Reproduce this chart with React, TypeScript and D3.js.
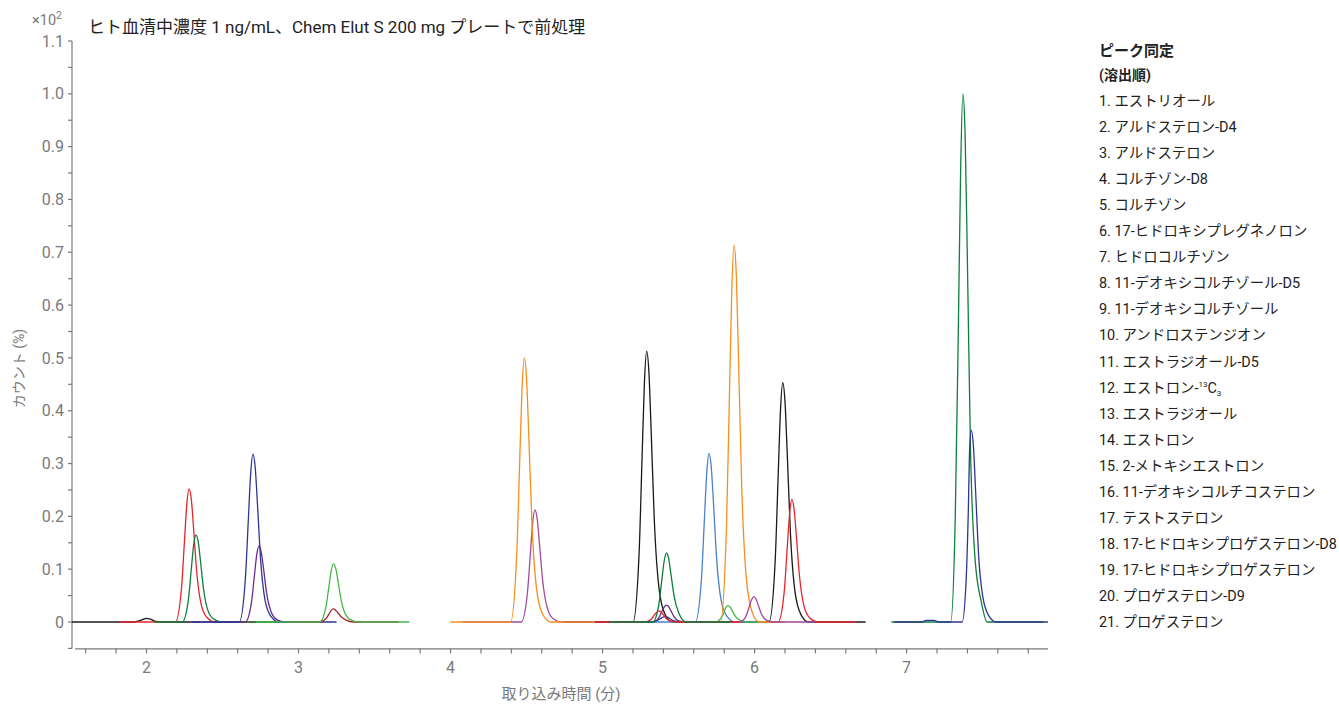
import * as d3 from 'd3';

type Pt = [number, number];

// retention time (min) vs. counts (x10^2 %)
const black1: Pt[] = [[1.51, 0], [1.91, 0], [1.95, 0.002], [1.97, 0.004], [1.985, 0.006], [2.0, 0.007], [2.015, 0.006], [2.03, 0.005], [2.05, 0.002], [2.08, 0.0005], [2.13, 0], [2.35, 0]];
const red1: Pt[] = [[1.82, 0], [2.19, 0], [2.23, 0.063], [2.25, 0.154], [2.265, 0.222], [2.28, 0.252], [2.295, 0.232], [2.31, 0.176], [2.33, 0.096], [2.36, 0.033], [2.4, 0.008], [2.45, 0], [2.9, 0]];
const green1: Pt[] = [[2.05, 0], [2.235, 0], [2.275, 0.041], [2.295, 0.101], [2.31, 0.145], [2.325, 0.165], [2.34, 0.152], [2.355, 0.116], [2.375, 0.063], [2.405, 0.021], [2.445, 0.005], [2.5, 0], [2.9, 0]];
const navy1: Pt[] = [[2.3, 0], [2.61, 0], [2.65, 0.08], [2.67, 0.194], [2.685, 0.28], [2.7, 0.318], [2.715, 0.293], [2.73, 0.223], [2.75, 0.121], [2.78, 0.041], [2.82, 0.01], [2.87, 0], [3.25, 0]];
const purple1: Pt[] = [[2.35, 0], [2.65, 0], [2.69, 0.036], [2.71, 0.088], [2.725, 0.127], [2.74, 0.144], [2.755, 0.132], [2.77, 0.101], [2.79, 0.055], [2.82, 0.019], [2.86, 0.004], [2.91, 0], [3.1, 0]];
const lime1: Pt[] = [[2.72, 0], [3.14, 0], [3.18, 0.028], [3.2, 0.067], [3.215, 0.097], [3.23, 0.11], [3.245, 0.101], [3.26, 0.077], [3.28, 0.042], [3.31, 0.014], [3.35, 0.003], [3.4, 0], [3.73, 0]];
const maroon1: Pt[] = [[2.95, 0], [3.14, 0], [3.18, 0.006], [3.2, 0.015], [3.215, 0.022], [3.23, 0.025], [3.245, 0.022], [3.26, 0.017], [3.28, 0.01], [3.31, 0.004], [3.36, 0], [3.66, 0]];

const orange1: Pt[] = [[4.0, 0], [4.395, 0], [4.435, 0.125], [4.455, 0.305], [4.47, 0.44], [4.485, 0.5], [4.5, 0.46], [4.515, 0.35], [4.535, 0.19], [4.565, 0.065], [4.605, 0.015], [4.66, 0], [4.95, 0]];
const magenta1: Pt[] = [[4.08, 0], [4.465, 0], [4.505, 0.053], [4.525, 0.129], [4.54, 0.187], [4.555, 0.212], [4.57, 0.195], [4.585, 0.148], [4.605, 0.081], [4.635, 0.028], [4.675, 0.006], [4.73, 0], [4.95, 0]];
const black2: Pt[] = [[4.75, 0], [5.2, 0], [5.24, 0.128], [5.26, 0.313], [5.275, 0.451], [5.29, 0.513], [5.305, 0.472], [5.32, 0.359], [5.34, 0.195], [5.37, 0.067], [5.41, 0.015], [5.46, 0], [5.65, 0]];
const red2: Pt[] = [[4.95, 0], [5.28, 0], [5.32, 0.005], [5.34, 0.013], [5.355, 0.018], [5.37, 0.021], [5.385, 0.019], [5.4, 0.014], [5.42, 0.006], [5.45, 0.0015], [5.5, 0], [5.9, 0]];
const green2: Pt[] = [[5.05, 0], [5.33, 0], [5.37, 0.033], [5.39, 0.08], [5.405, 0.115], [5.42, 0.131], [5.435, 0.12], [5.45, 0.09], [5.47, 0.05], [5.5, 0.018], [5.55, 0], [5.85, 0]];
const purple2: Pt[] = [[4.85, 0], [5.33, 0], [5.37, 0.008], [5.39, 0.02], [5.405, 0.028], [5.42, 0.032], [5.435, 0.029], [5.45, 0.021], [5.47, 0.01], [5.5, 0.002], [5.55, 0], [5.95, 0]];
const navy2: Pt[] = [[5.2, 0], [5.32, 0], [5.36, 0.003], [5.38, 0.006], [5.395, 0.009], [5.41, 0.01], [5.425, 0.009], [5.44, 0.007], [5.46, 0.003], [5.49, 0.001], [5.54, 0], [5.7, 0]];
const blue2: Pt[] = [[5.3, 0], [5.61, 0], [5.65, 0.08], [5.67, 0.195], [5.685, 0.281], [5.7, 0.319], [5.715, 0.293], [5.73, 0.223], [5.75, 0.121], [5.78, 0.041], [5.82, 0.01], [5.87, 0], [6.05, 0]];
const orange2: Pt[] = [[5.5, 0], [5.775, 0], [5.815, 0.179], [5.835, 0.436], [5.85, 0.628], [5.865, 0.714], [5.88, 0.655], [5.895, 0.49], [5.915, 0.26], [5.945, 0.085], [5.985, 0.018], [6.03, 0], [6.2, 0]];
const lime2: Pt[] = [[5.5, 0], [5.74, 0], [5.78, 0.008], [5.8, 0.019], [5.81, 0.027], [5.825, 0.031], [5.84, 0.028], [5.855, 0.02], [5.875, 0.01], [5.905, 0.003], [5.95, 0], [6.1, 0]];
const magenta2: Pt[] = [[5.6, 0], [5.905, 0], [5.945, 0.012], [5.965, 0.029], [5.98, 0.042], [5.995, 0.048], [6.01, 0.043], [6.025, 0.031], [6.045, 0.015], [6.075, 0.004], [6.12, 0], [6.4, 0]];
const black3: Pt[] = [[5.75, 0], [6.095, 0], [6.135, 0.113], [6.155, 0.276], [6.17, 0.399], [6.185, 0.453], [6.2, 0.417], [6.215, 0.317], [6.235, 0.172], [6.265, 0.059], [6.305, 0.014], [6.355, 0], [6.73, 0]];
const red3: Pt[] = [[5.8, 0], [6.155, 0], [6.195, 0.058], [6.215, 0.142], [6.23, 0.204], [6.245, 0.232], [6.26, 0.213], [6.275, 0.162], [6.295, 0.088], [6.325, 0.03], [6.365, 0.007], [6.415, 0], [6.66, 0]];

const green3: Pt[] = [[6.9, 0], [7.29, 0], [7.32, 0.2], [7.34, 0.55], [7.355, 0.85], [7.37, 1.0], [7.385, 0.92], [7.4, 0.68], [7.42, 0.33], [7.45, 0.12], [7.49, 0.04], [7.53, 0], [7.9, 0]];
const navy3: Pt[] = [[6.92, 0], [7.1, 0], [7.13, 0.003], [7.18, 0.003], [7.21, 0], [7.365, 0], [7.39, 0.07], [7.405, 0.2], [7.415, 0.33], [7.425, 0.363], [7.44, 0.33], [7.455, 0.24], [7.475, 0.12], [7.5, 0.05], [7.54, 0.012], [7.59, 0], [7.93, 0]];

const yTickValues = [0, 0.1, 0.2, 0.3, 0.4, 0.5, 0.6, 0.7, 0.8, 0.9, 1.0, 1.1];
const yTickLabels = ['0', '0.1', '0.2', '0.3', '0.4', '0.5', '0.6', '0.7', '0.8', '0.9', '1.0', '1.1'];
const xTickValues = [2, 3, 4, 5, 6, 7];

const legendItems = [
  '1. エストリオール',
  '2. アルドステロン-D4',
  '3. アルドステロン',
  '4. コルチゾン-D8',
  '5. コルチゾン',
  '6. 17-ヒドロキシプレグネノロン',
  '7. ヒドロコルチゾン',
  '8. 11-デオキシコルチゾール-D5',
  '9. 11-デオキシコルチゾール',
  '10. アンドロステンジオン',
  '11. エストラジオール-D5',
  '12. エストロン-',
  '13. エストラジオール',
  '14. エストロン',
  '15. 2-メトキシエストロン',
  '16. 11-デオキシコルチコステロン',
  '17. テストステロン',
  '18. 17-ヒドロキシプロゲステロン-D8',
  '19. 17-ヒドロキシプロゲステロン',
  '20. プロゲステロン-D9',
  '21. プロゲステロン',
];

const C = {
  black: '#1a1a1a',
  red: '#e8242b',
  green: '#0e7f3c',
  navy: '#2e3592',
  purple: '#6a2c8c',
  lime: '#47b649',
  maroon: '#a5262b',
  orange: '#f58e1e',
  magenta: '#a34a9f',
  blue: '#4a82c8',
};

// draw order: later traces sit on top
const traces: { data: Pt[]; color: string }[] = [
  { data: black1, color: C.black },
  { data: red1, color: C.red },
  { data: green1, color: C.green },
  { data: purple1, color: C.purple },
  { data: navy1, color: C.navy },
  { data: maroon1, color: C.maroon },
  { data: lime1, color: C.lime },
  { data: black2, color: C.black },
  { data: purple2, color: C.purple },
  { data: magenta1, color: C.magenta },
  { data: orange1, color: C.orange },
  { data: black3, color: C.black },
  { data: red3, color: C.red },
  { data: blue2, color: C.blue },
  { data: lime2, color: C.lime },
  { data: orange2, color: C.orange },
  { data: magenta2, color: C.magenta },
  { data: navy2, color: C.navy },
  { data: red2, color: C.red },
  { data: green2, color: C.green },
  { data: green3, color: C.green },
  { data: navy3, color: C.navy },
];

const FONT = "Roboto, 'Noto Sans CJK JP', sans-serif";
const GRAY = '#7a7a7a';

export default function App() {
  const x = d3.scaleLinear().domain([1.51, 7.93]).range([72, 1048]);
  const y = d3.scaleLinear().domain([-0.05, 1.1]).range([648.4, 41]);

  const line = d3
    .line<Pt>()
    .x((d) => x(d[0]))
    .y((d) => y(d[1]))
    .curve(d3.curveMonotoneX);

  const xMinor = d3.range(8, 40).map((i) => i / 5);
  const yMinor = d3.range(-1, 23).map((i) => i / 20);
  const axisY = y(-0.05);

  return (
    <svg
      width={1339}
      height={705}
      style={{ position: 'absolute', left: 0, top: 0, background: '#fff' }}
      fontFamily={FONT}
    >
      {/* y axis */}
      <line x1={72} x2={72} y1={y(1.1)} y2={axisY} stroke={GRAY} strokeWidth={1.2} />
      {yMinor.map((v) => (
        <line key={v} x1={68} x2={72} y1={y(v)} y2={y(v)} stroke={GRAY} strokeWidth={1.2} />
      ))}
      {yTickValues.map((v, i) => (
        <text key={v} x={64} y={y(v)} dy="0.35em" textAnchor="end" fontSize={16} fill={GRAY}>
          {yTickLabels[i]}
        </text>
      ))}
      <text x={32} y={25} fontSize={14.5} fill={GRAY}>
        ×10<tspan dy={-6} fontSize={10.5}>2</tspan>
      </text>
      <text
        transform={`translate(24,${y(0.48)}) rotate(-90)`}
        textAnchor="middle"
        fontSize={14}
        fill={GRAY}
      >
        カウント (%)
      </text>

      {/* x axis */}
      <line x1={75} x2={1048} y1={axisY + 0.5} y2={axisY + 0.5} stroke={GRAY} strokeWidth={1.2} />
      {xMinor.map((v) => (
        <line key={v} x1={x(v)} x2={x(v)} y1={axisY} y2={axisY + 5} stroke={GRAY} strokeWidth={1.2} />
      ))}
      {xTickValues.map((v) => (
        <text key={v} x={x(v)} y={673} textAnchor="middle" fontSize={16} fill={GRAY}>
          {v}
        </text>
      ))}
      <text x={561} y={699} textAnchor="middle" fontSize={15} fill={GRAY}>
        取り込み時間 (分)
      </text>

      {/* title */}
      <text x={88} y={33} fontSize={17} fill="#222">
        ヒト血清中濃度 1 ng/mL、Chem Elut S 200 mg プレートで前処理
      </text>

      {/* traces */}
      <g fill="none" strokeWidth={1.3} strokeLinejoin="round">
        {traces.map((t, i) => (
          <path key={i} d={line(t.data) ?? ''} stroke={t.color} />
        ))}
      </g>

      {/* legend */}
      <g fontSize={14.4} fill="#222">
        <text x={1099} y={56} fontWeight="bold" fontSize={15}>
          ピーク同定
        </text>
        <text x={1099} y={80} fontWeight="bold" fontSize={14}>
          (溶出順)
        </text>
        {legendItems.map((s, i) => (
          <text key={s} x={1099} y={106 + i * 26.05}>
            {s}
            {i === 11 && (
              <>
                <tspan fontSize={8} dy={-6}>13</tspan>
                <tspan fontSize={14.4} dy={6}>C</tspan>
                <tspan fontSize={8} dy={3}>3</tspan>
              </>
            )}
          </text>
        ))}
      </g>
    </svg>
  );
}
